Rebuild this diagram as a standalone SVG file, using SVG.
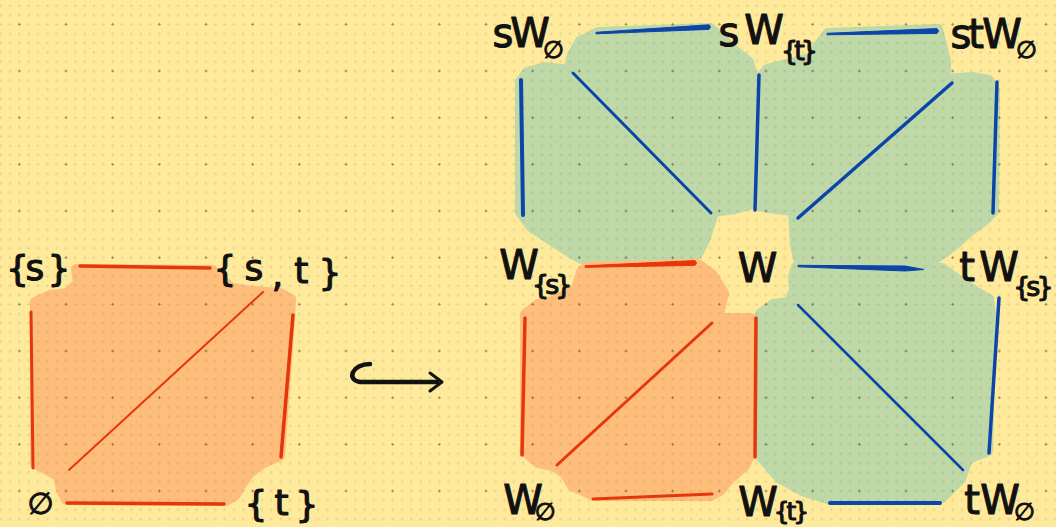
<svg xmlns="http://www.w3.org/2000/svg" width="1056" height="527" viewBox="0 0 1056 527">
<style>
.lbl{font-family:"DejaVu Sans","Liberation Sans",sans-serif;fill:#111;stroke:#111;stroke-width:1.1;stroke-linejoin:round}
.sub{font-size:27px;letter-spacing:-4px}
.org{fill:#FFBD7B;stroke:#FFBD7B;stroke-width:10;stroke-linejoin:round}
.grn{fill:#BFD8A8;stroke:#BFD8A8;stroke-width:10;stroke-linejoin:round}
.r{stroke:#E5360C;fill:none;stroke-linecap:round}
.b{stroke:#0B45A8;fill:none;stroke-linecap:round}
.rf{fill:#E5360C;stroke:#E5360C;stroke-width:1;stroke-linejoin:round}
.bf{fill:#0B45A8;stroke:#0B45A8;stroke-width:1;stroke-linejoin:round}
</style>
<defs>
<pattern id="dots" patternUnits="userSpaceOnUse" x="-4" y="1" width="46.667" height="46.667">
<g fill="#6f7d4a" fill-opacity="0.22">
<path id="pl" d="M-1.5,-0.5h3v1h-3z M-0.5,-1.5h1v3h-1z"/>
</g>
<g fill="#6f7d4a" fill-opacity="0.22">
<use href="#pl" x="4.667" y="4.667"/><use href="#pl" x="14" y="4.667"/><use href="#pl" x="23.333" y="4.667"/><use href="#pl" x="32.667" y="4.667"/><use href="#pl" x="42" y="4.667"/>
<use href="#pl" x="4.667" y="14"/><use href="#pl" x="14" y="14"/><use href="#pl" x="23.333" y="14"/><use href="#pl" x="32.667" y="14"/><use href="#pl" x="42" y="14"/>
<use href="#pl" x="4.667" y="23.333"/><use href="#pl" x="14" y="23.333"/><use href="#pl" x="32.667" y="23.333"/><use href="#pl" x="42" y="23.333"/>
<use href="#pl" x="4.667" y="32.667"/><use href="#pl" x="14" y="32.667"/><use href="#pl" x="23.333" y="32.667"/><use href="#pl" x="32.667" y="32.667"/><use href="#pl" x="42" y="32.667"/>
<use href="#pl" x="4.667" y="42"/><use href="#pl" x="14" y="42"/><use href="#pl" x="23.333" y="42"/><use href="#pl" x="32.667" y="42"/><use href="#pl" x="42" y="42"/>
</g>
<g fill="#3d3d30" fill-opacity="0.55"><use href="#pl" x="23.333" y="23.333"/></g>
</pattern>
</defs>
<rect width="1056" height="527" fill="#FFEA9C"/>
<g id="regions">
<path id="left-square" class="org" d="M76,269 L212,270 L222,280 L232,288 L253,291 L280,293 L291,299 L290,320 L280,456 L262,464 L250,473 L242,484 L235,496 L226,501 L66,500 L61,490 L58,476 L45,469 L35,464 L35,302 L50,295 L67,293 L78,283 Z"/>
<path id="top-left-green" class="grn" d="M598,32 L710,28 L720,36 L733,49 L749,62 L753,76 L753,204 L735,209 L714,212 L710,225 L705,240 L698,254 L581,259 L566,250 L551,240 L531,227 L520,212 L520,82 L527,72 L545,67 L568,70 L572,55 L580,41 Z"/>
<path id="top-right-green" class="grn" d="M828,33 L938,29 L942,45 L946,62 L946,79 L972,77 L989,80 L995,90 L994,211 L983,222 L969,232 L957,243 L944,253 L931,262 L799,263 L795,245 L794,228 L793,211 L775,209 L759,206 L759,80 L767,69 L790,63 L810,58 L820,43 Z"/>
<path id="bottom-left-orange" class="org" d="M586,267 L698,264 L712,274 L724,293 L720,311 L713,318 L751,318 L754,447 L745,466 L730,479 L720,491 L711,496 L594,496 L572,486 L564,473 L553,466 L538,463 L525,452 L525,314 L538,304 L553,301 L576,289 L581,272 Z"/>
<path id="bottom-right-green" class="grn" d="M796,267 L942,268 L960,281 L975,291 L989,299 L991,313 L988,451 L968,459 L961,479 L942,498 L831,500 L802,491 L779,478 L760,456 L760,314 L773,304 L789,302 L794,290 L793,277 Z"/>
</g>
<rect width="1056" height="527" fill="url(#dots)"/>
<g id="connectors">
<line class="r" x1="80" y1="266" x2="210" y2="268" stroke-width="3.5"/>
<line class="r" x1="31" y1="312" x2="33" y2="468" stroke-width="3"/>
<line class="r" x1="293" y1="315" x2="281" y2="457" stroke-width="3.5"/>
<line class="r" x1="263" y1="292" x2="69" y2="470" stroke-width="2"/>
<line class="r" x1="67" y1="503" x2="224" y2="504" stroke-width="3.5"/>
<path class="bf" d="M596,32.3 L709,24.8 Q712,27 709,29.4 L596,33.8 Z"/>
<path class="bf" d="M827,33.3 L937,28.6 Q940,31 937,33.4 L827,34.8 Z"/>
<line class="b" x1="521" y1="80" x2="523" y2="215" stroke-width="4"/>
<line class="b" x1="573" y1="73" x2="711" y2="213" stroke-width="3"/>
<line class="b" x1="759" y1="75" x2="755" y2="210" stroke-width="3.5"/>
<line class="b" x1="952" y1="83" x2="798" y2="218" stroke-width="3.5"/>
<line class="b" x1="997" y1="82" x2="993" y2="213" stroke-width="3.5"/>
<path class="rf" d="M585,265.8 L695,260.6 Q698,263 695,265.4 L585,267.3 Z"/>
<path class="bf" d="M798,265.3 L905,266 L924,269.5 L905,271 L798,266.8 Z"/>
<line class="r" x1="525" y1="318" x2="522" y2="455" stroke-width="3.5"/>
<line class="r" x1="712" y1="323" x2="557" y2="465" stroke-width="3"/>
<line class="r" x1="756" y1="318" x2="755" y2="457" stroke-width="3.5"/>
<line class="r" x1="593" y1="499" x2="712" y2="494" stroke-width="3"/>
<line class="b" x1="798" y1="305" x2="963" y2="470" stroke-width="2.5"/>
<line class="b" x1="999" y1="298" x2="989" y2="453" stroke-width="3.5"/>
<line class="b" x1="830" y1="503" x2="940" y2="503" stroke-width="4"/>
<path d="M370,364 C352,364 346,380 360,382 L437,382" fill="none" stroke="#111" stroke-width="4.5" stroke-linecap="round"/>
<path d="M430,373 L442,382 L430,391" fill="none" stroke="#111" stroke-width="3" stroke-linecap="round" stroke-linejoin="round"/>
</g>
<g id="node-s"><text class="lbl" font-size="36" x="6" y="281">{<tspan dx="-3.3" dy="-1">s</tspan><tspan dx="3.1" dy="1">}</tspan></text></g>
<g id="node-st"><text class="lbl" font-size="36" x="213.5" y="281">{<tspan dx="8.1" dy="-1">s</tspan><tspan dx="8.4" dy="7">,</tspan><tspan dx="11.2" dy="-4">t</tspan><tspan dx="10" dy="2">}</tspan></text></g>
<g id="node-empty"><text class="lbl" font-size="30" x="27.5" y="514">∅</text></g>
<g id="node-t"><text class="lbl" font-size="36" x="244.5" y="516">{<tspan dx="7" dy="-1">t</tspan><tspan dx="7" dy="2">}</tspan></text></g>
<g id="node-sW0"><text class="lbl" font-size="40" x="492.6" y="47">s<tspan dx="-3.2">W</tspan><tspan dx="-6.8" dy="11" font-size="24">∅</tspan></text></g>
<g id="node-sWt"><text class="lbl" font-size="40" x="718.6" y="46">s<tspan dx="4.8" dy="-2">W</tspan><tspan class="sub" dx="-2.7" dy="16">{t}</tspan></text></g>
<g id="node-stW0"><text class="lbl" font-size="40" x="950.6" y="48">s<tspan dx="-3.2">t</tspan><tspan dx="-1.7">W</tspan><tspan dx="-5.9" dy="10" font-size="24">∅</tspan></text></g>
<g id="node-Ws"><text class="lbl" font-size="40" x="499.2" y="279">W<tspan class="sub" dx="-6.7" dy="15">{s}</tspan></text></g>
<g id="node-W"><text class="lbl" font-size="40" x="737.7" y="282">W</text></g>
<g id="node-tWs"><text class="lbl" font-size="40" x="959.2" y="281">t<tspan dx="4.4">W</tspan><tspan class="sub" dx="-5.7" dy="15">{s}</tspan></text></g>
<g id="node-W0"><text class="lbl" font-size="40" x="503.2" y="514">W<tspan dx="-7.9" dy="6" font-size="24">∅</tspan></text></g>
<g id="node-Wt"><text class="lbl" font-size="40" x="738.2" y="516">W<tspan class="sub" dx="-4.1" dy="4" style="font-size:25px;letter-spacing:-3px">{t}</tspan></text></g>
<g id="node-tW0"><text class="lbl" font-size="40" x="964.2" y="514">t<tspan dx="0.4">W</tspan><tspan dx="-5.9" dy="6" font-size="24">∅</tspan></text></g>
</svg>
